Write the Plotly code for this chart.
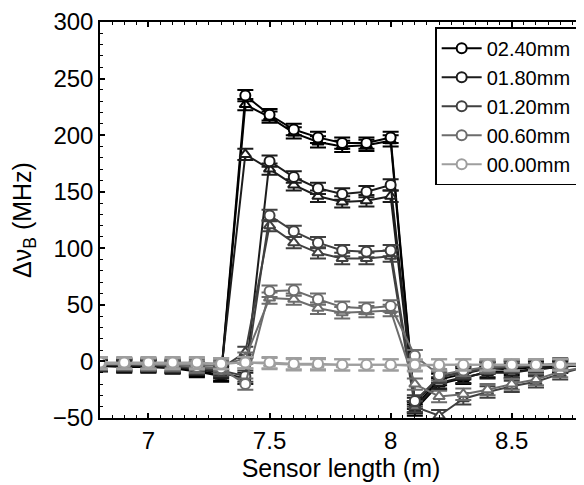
import plotly.graph_objects as go

# Sensor positions (m)
x_pos = [6.8, 6.9, 7.0, 7.1, 7.2, 7.3, 7.4, 7.5, 7.6, 7.7, 7.8, 7.9, 8.0,
         8.1, 8.2, 8.3, 8.4, 8.5, 8.6, 8.7, 8.8]

series_names = ["02.40mm", "01.80mm", "01.20mm", "00.60mm", "00.00mm"]

# circle measurements (MHz)
c_240 = [-3, -4, -4, -5, -8, -12, 235, 218, 205, 198, 193, 193, 198, -40, -16, -11, -6, -7, -5, -4, -3]
c_180 = [-3, -3, -4, -5, -7, -10, -15, 177, 163, 153, 148, 150, 156, -37, -14, -9, -5, -5, -4, -3, -3]
c_120 = [-2, -3, -3, -4, -6, -8, -13, 129, 115, 105, 98, 97, 98, -35, -14, -10, -6, -5, -4, -3, -2]
c_060 = [-2, -2, -3, -3, -5, -6, -20, 62, 63, 55, 48, 47, 49, 5, -12, -8, -5, -4, -3, -2, -2]
c_000 = [-1, -1, -1, -1, -1, -2, -1, -1, -2, -2, -3, -3, -3, -3, -3, -3, -3, -3, -3, -3, -3]

# triangle measurements (MHz)
t_240 = [-4, -5, -5, -6, -9, -13, 227, 216, 202, 194, 190, 191, 195, -43, -20, -15, -9, -9, -7, -5, -3]
t_180 = [-3, -4, -4, -5, -7, -9, 183, 170, 156, 146, 141, 142, 146, -41, -19, -14, -10, -10, -7, -5, -3]
t_120 = [-3, -3, -3, -4, -5, -6, 8, 120, 105, 96, 91, 91, 93, -40, -48, -33, -27, -22, -18, -11, -5]
t_060 = [-2, -2, -2, -3, -3, -4, 3, 56, 55, 47, 43, 44, 45, -20, -31, -29, -25, -20, -16, -9, -5]
t_000 = [-2, -2, -2, -2, -2, -2, -1, -2, -3, -3, -3, -3, -3, -4, -3, -3, -3, -3, -3, -3, -3]

err_mhz = 5

circles = [c_240, c_180, c_120, c_060, c_000]
triangles = [t_240, t_180, t_120, t_060, t_000]
colors = ["#000000", "#1c1c1c", "#404040", "#6c6c6c", "#9e9e9e"]

fig = go.Figure()
for name, cy, ty, col in zip(series_names, circles, triangles, colors):
    err = dict(type="constant", value=err_mhz, color=col, thickness=2, width=8)
    fig.add_trace(go.Scatter(
        x=x_pos, y=ty, mode="lines+markers", name=name, showlegend=False,
        line=dict(color=col, width=2),
        marker=dict(symbol="triangle-up", size=10, color="white",
                    line=dict(color=col, width=2)),
        error_y=err))
    fig.add_trace(go.Scatter(
        x=x_pos, y=cy, mode="lines+markers", name=name,
        line=dict(color=col, width=2),
        marker=dict(symbol="circle", size=10, color="white",
                    line=dict(color=col, width=2)),
        error_y=err))

axis_common = dict(showline=True, linecolor="black", linewidth=1.5, mirror="allticks",
                   ticks="inside", ticklen=5, tickwidth=1.5, tickcolor="black",
                   showgrid=False, zeroline=False, automargin=False,
                   tickfont=dict(size=24, color="black"))

fig.update_xaxes(range=[6.8, 8.79], tickvals=[7, 7.5, 8, 8.5], ticktext=["7", "7.5", "8", "8.5"],
                 minor=dict(ticks="inside", dtick=0.05, ticklen=3, tickwidth=1, tickcolor="black"),
                 title=dict(text="Sensor length (m)", font=dict(size=25, color="black"), standoff=2),
                 **axis_common)
fig.update_yaxes(range=[-50, 300], dtick=50,
                 minor=dict(ticks="inside", dtick=10, ticklen=3, tickwidth=1, tickcolor="black"),
                 title=dict(text="Δν<sub>B</sub> (MHz)", font=dict(size=25, color="black"), standoff=14),
                 **axis_common)

fig.update_layout(
    width=576, height=477,
    margin=dict(l=92, r=2, t=14, b=67),
    paper_bgcolor="white", plot_bgcolor="white",
    font=dict(family="Liberation Sans, Arial, sans-serif", color="black"),
    legend=dict(x=0.99, y=0.987, xanchor="right", yanchor="top",
                bgcolor="white", bordercolor="black", borderwidth=1.5,
                font=dict(size=20, color="black"), tracegroupgap=0,
                itemwidth=40),
)

fig.write_html("out.html")
